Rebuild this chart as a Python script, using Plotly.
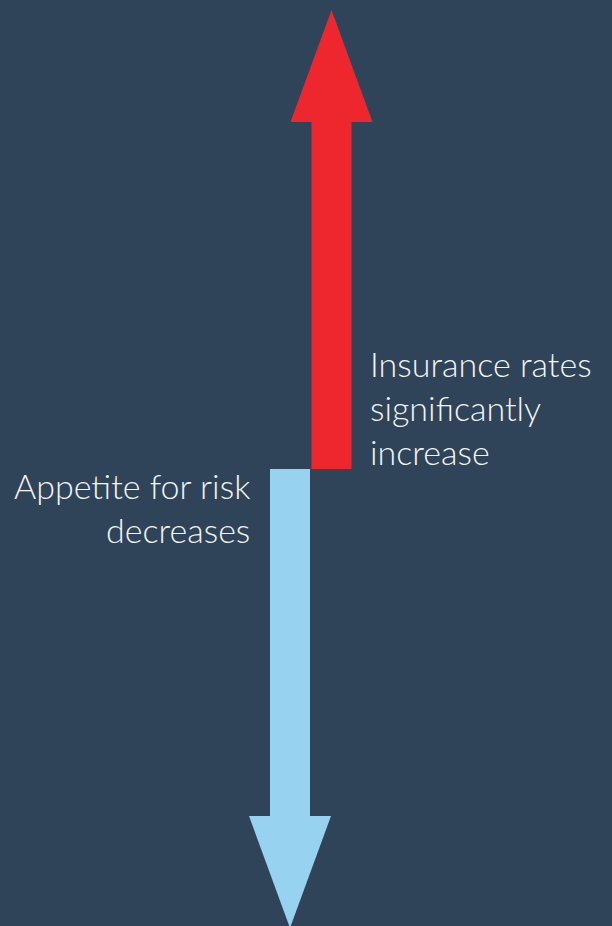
import plotly.graph_objects as go

# ---- data ----
labels = ["Insurance rates<br>significantly<br>increase", "Appetite for risk<br>decreases"]
changes = [1.0, -1.0]
colors = ["#ee262e", "#97d2f1"]

# ---- style / layout constants ----
W, H = 612, 926
BG = "#2f4459"
x_centers = [331.5, 290.0]
shaft_w = 40
head_w = 82
head_frac = 0.244
zero_px = 469          # pixel row of the zero line
unit_px = 459          # pixels per unit of change

y_top = zero_px / unit_px
y_bot = -(H - zero_px) / unit_px

fig = go.Figure()
for lab, v, c, xc in zip(labels, changes, colors, x_centers):
    shaft_end = v * (1 - head_frac)
    fig.add_trace(go.Bar(x=[xc], y=[shaft_end], base=0, width=shaft_w,
                         marker=dict(color=c, line=dict(width=0)),
                         hoverinfo="skip", showlegend=False))
    fig.add_trace(go.Scatter(x=[xc - head_w / 2, xc + head_w / 2, xc, xc - head_w / 2],
                             y=[shaft_end, shaft_end, v, shaft_end],
                             fill="toself", fillcolor=c, mode="lines",
                             line=dict(width=0, color=c),
                             hoverinfo="skip", showlegend=False))

font = dict(family="Lato, 'Source Sans Pro', 'Open Sans', sans-serif", size=34,
            color="#f2f4f6", weight=300)
fig.add_annotation(x=368, y=(zero_px - 407) / unit_px, text=labels[0],
                   xanchor="left", yanchor="middle", align="left",
                   showarrow=False, font=font)
fig.add_annotation(x=252, y=-(507 - zero_px) / unit_px, text=labels[1],
                   xanchor="right", yanchor="middle", align="right",
                   showarrow=False, font=font)

fig.update_layout(
    width=W, height=H, margin=dict(l=0, r=0, t=0, b=0),
    paper_bgcolor=BG, plot_bgcolor=BG, barmode="overlay",
    xaxis=dict(range=[0, W], visible=False, fixedrange=True),
    yaxis=dict(range=[y_bot, y_top], visible=False, fixedrange=True),
)
fig.write_html("out.html", config=dict(displayModeBar=False),
               post_script="document.body.style.margin='0';document.body.style.background='%s';" % BG)
